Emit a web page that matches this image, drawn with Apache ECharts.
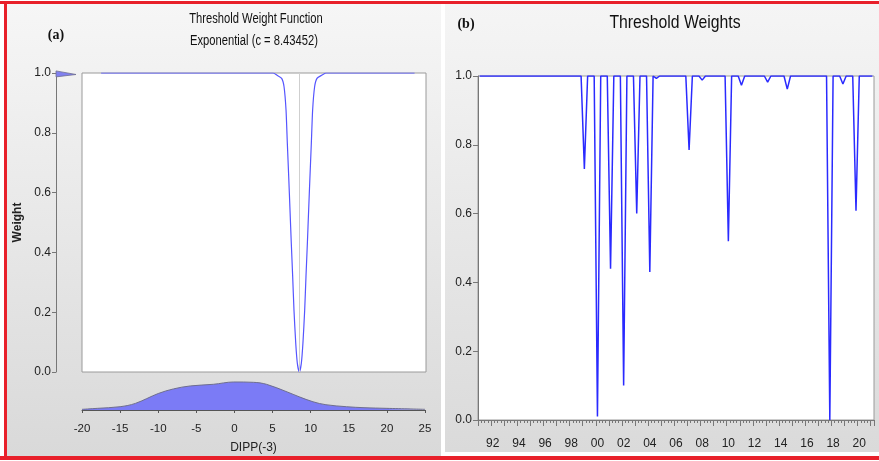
<!DOCTYPE html>
<html><head><meta charset="utf-8">
<script src="https://cdn.jsdelivr.net/npm/echarts@6/dist/echarts.min.js"></script>
<style>html,body{margin:0;padding:0;background:#fff}#c{width:879px;height:461px}</style>
</head><body><div id="c"></div>
<script>
// ---------- Panel (a): threshold weight function ----------
const cValue = 8.43452;
const curveX = [-17.5, 5.0, 5.47, 6.12, 6.43, 6.69, 6.86, 7.04, 7.21, 7.38, 7.56, 7.73, 7.96, 8.17, 8.43, 8.69, 8.90, 9.13, 9.30, 9.48, 9.65, 9.82, 10.00, 10.17, 10.43, 10.74, 11.39, 11.9, 23.5];
const curveW = [1.0, 1.0, 0.993, 0.982, 0.954, 0.876, 0.765, 0.653, 0.542, 0.430, 0.319, 0.207, 0.096, 0.029, 0.0, 0.029, 0.096, 0.207, 0.319, 0.430, 0.542, 0.653, 0.765, 0.876, 0.954, 0.982, 0.993, 1.0, 1.0];
// marginal density of DIPP(-3)
const densX = [-20, -18, -15, -13, -10, -8, -5.8, -2.75, -0.1, 2.5, 4.2, 6.9, 8.5, 10.3, 12, 14.7, 17, 20, 25];
const densY = [0.002, 0.005, 0.010, 0.020, 0.050, 0.064, 0.073, 0.078, 0.085, 0.084, 0.078, 0.055, 0.040, 0.025, 0.016, 0.010, 0.007, 0.005, 0.002];
// marginal density of weights (tiny spike at 1.0)
const wDensX = [0, 1, 0];
const wDensY = [0.987, 0.995, 1.007];

// ---------- Panel (b): threshold weights over time (quarterly 1991Q1-2021Q1) ----------
const startYear = 1991, nQuarters = 121;
const weightsB = [
 1,1,1,1,1,1,1,1,1,1,
 1,1,1,1,1,1,1,1,1,1,
 1,1,1,1,1,1,1,1,1,1,
 1,1,0.73,1,1,1,0.01,1,1,1,
 0.44,1,1,1,0.10,1,1,1,0.60,1,
 1,1,0.43,1,0.993,1,1,1,1,1,
 1,1,1,1,0.785,1,1,1,0.988,1,
 1,1,1,1,1,1,0.52,1,1,1,
 0.973,1,1,1,1,1,1,1,0.982,1,
 1,1,1,1,0.962,1,1,1,1,1,
 1,1,1,1,1,1,1,0.0,1,1,
 1,0.977,1,1,1,0.608,1,1,1,1,
 1
];
const quarters = [];
for (let i = 0; i < nQuarters; i++) quarters.push((startYear + Math.floor(i / 4)) + 'Q' + (i % 4 + 1));

const FONT = "'Liberation Sans',Arial,sans-serif";
const chart = echarts.init(document.getElementById('c'), null, {renderer: 'canvas'});

const grad = (a, b) => new echarts.graphic.LinearGradient(0, 0, 0, 1, [{offset: 0, color: a}, {offset: 1, color: b}]);
const txt = (x, y, text, font, sx) => ({type: 'text', x: x, y: y, scaleX: sx || 1,
  style: {text: text, font: font, fill: '#111', textAlign: 'center', textVerticalAlign: 'middle'}});

const option = {
  animation: false,
  backgroundColor: '#ffffff',
  graphic: [
    {type: 'rect', z: -10, shape: {x: 7, y: 4, width: 434, height: 452}, style: {fill: grad('#f6f6f6', '#d9d9d9')}},
    {type: 'rect', z: -10, shape: {x: 445, y: 4, width: 434, height: 448}, style: {fill: grad('#f5f5f5', '#dadada')}},
    {type: 'rect', z: 100, shape: {x: 0, y: 1, width: 879, height: 3}, style: {fill: '#e8202a'}},
    {type: 'rect', z: 100, shape: {x: 0, y: 456, width: 879, height: 4}, style: {fill: '#e8202a'}},
    {type: 'rect', z: 100, shape: {x: 4, y: 1, width: 3, height: 459}, style: {fill: '#e8202a'}},
    txt(256, 19, 'Threshold Weight Function', '14px ' + FONT, 0.8),
    txt(254, 41, 'Exponential (c = 8.43452)', '14px ' + FONT, 0.8),
    txt(56, 35, '(a)', 'bold 14px "Liberation Serif","Times New Roman",serif'),
    txt(675, 23, 'Threshold Weights', '19px ' + FONT, 0.83),
    txt(466, 24, '(b)', 'bold 14px "Liberation Serif","Times New Roman",serif')
  ],
  grid: [
    {left: 82, top: 73, width: 344, height: 299, show: true, backgroundColor: '#fff', borderColor: '#9a9a9a', borderWidth: 1},
    {left: 82, top: 381, width: 343, height: 29},
    {left: 56, top: 73, width: 20, height: 299},
    {left: 478, top: 76, width: 396, height: 344, show: true, backgroundColor: '#fff', borderColor: '#9a9a9a', borderWidth: 1}
  ],
  xAxis: [
    {gridIndex: 0, type: 'value', min: -20, max: 25, interval: 5, axisLine: {show: false}, axisTick: {show: false}, axisLabel: {show: false}, splitLine: {show: false}},
    {gridIndex: 1, type: 'value', min: -20, max: 25, interval: 5,
      axisLine: {show: true, onZero: false, lineStyle: {color: '#555', width: 1}},
      axisTick: {show: true, length: 3, lineStyle: {color: '#555'}},
      axisLabel: {show: true, margin: 13, color: '#222', fontSize: 11.5, fontFamily: FONT, formatter: v => String(v)},
      splitLine: {show: false},
      name: 'DIPP(-3)', nameLocation: 'middle', nameGap: 32, nameTextStyle: {color: '#222', fontSize: 12, fontFamily: FONT}},
    {gridIndex: 2, type: 'value', min: 0, max: 1, show: false},
    {gridIndex: 3, type: 'category', data: quarters, boundaryGap: true,
      axisLine: {show: true, onZero: false, lineStyle: {color: '#777'}},
      axisTick: {show: true, interval: 0, length: 3, lineStyle: {color: '#777'}},
      axisLabel: {show: true, interval: (i) => i % 8 === 4, margin: 18, color: '#222', fontSize: 12, fontFamily: FONT,
        formatter: v => v.slice(2, 4)},
      splitLine: {show: false}},
    {gridIndex: 3, type: 'category', data: quarters, boundaryGap: true, position: 'bottom',
      axisLine: {show: false, onZero: false},
      axisTick: {show: true, interval: (i) => i % 4 === 0, length: 6, lineStyle: {color: '#777'}},
      axisLabel: {show: false}, splitLine: {show: false}}
  ],
  yAxis: [
    {gridIndex: 0, type: 'value', min: 0, max: 1, interval: 0.2, offset: 26,
      axisLine: {show: true, onZero: false, lineStyle: {color: '#777'}},
      axisTick: {show: true, length: 4, lineStyle: {color: '#777'}},
      axisLabel: {color: '#222', fontSize: 12, fontFamily: FONT, margin: 5, formatter: v => v.toFixed(1)},
      splitLine: {show: false},
      name: 'Weight', nameLocation: 'middle', nameGap: 32, nameRotate: 90,
      nameTextStyle: {color: '#222', fontSize: 12, fontWeight: 'bold', fontFamily: FONT}},
    {gridIndex: 1, type: 'value', min: 0, max: 0.088, show: false},
    {gridIndex: 2, type: 'value', min: 0, max: 1, show: false},
    {gridIndex: 3, type: 'value', min: 0, max: 1, interval: 0.2,
      axisLine: {show: true, onZero: false, lineStyle: {color: '#777'}},
      axisTick: {show: true, length: 5, lineStyle: {color: '#777'}},
      axisLabel: {color: '#222', fontSize: 12, fontFamily: FONT, margin: 6, formatter: v => v.toFixed(1)},
      splitLine: {show: false}}
  ],
  series: [
    {type: 'line', xAxisIndex: 0, yAxisIndex: 0, data: curveX.map((x, i) => [x, curveW[i]]),
      showSymbol: false, smooth: 0.2, lineStyle: {color: '#5555ff', width: 1.2},
      markLine: {silent: true, symbol: 'none', label: {show: false},
        lineStyle: {color: '#cfcfcf', width: 1, type: 'solid'}, data: [{xAxis: cValue}]}},
    {type: 'line', xAxisIndex: 1, yAxisIndex: 1, data: densX.map((x, i) => [x, densY[i]]),
      showSymbol: false, smooth: 0.35, lineStyle: {color: '#6e6e8e', width: 1},
      areaStyle: {color: '#7b7bf6', opacity: 1}},
    {type: 'custom', xAxisIndex: 2, yAxisIndex: 2, clip: false, data: [0],
      renderItem: (params, api) => {
        const pts = wDensX.map((x, i) => api.coord([x, wDensY[i]]));
        return {type: 'polygon', shape: {points: pts}, style: {fill: '#8080f0', stroke: '#707090', lineWidth: 0.8}};
      }},
    {type: 'line', xAxisIndex: 3, yAxisIndex: 3, data: weightsB,
      showSymbol: false, lineStyle: {color: '#2a2aff', width: 1.5}}
  ]
};
chart.setOption(option);
</script>
</body></html>
